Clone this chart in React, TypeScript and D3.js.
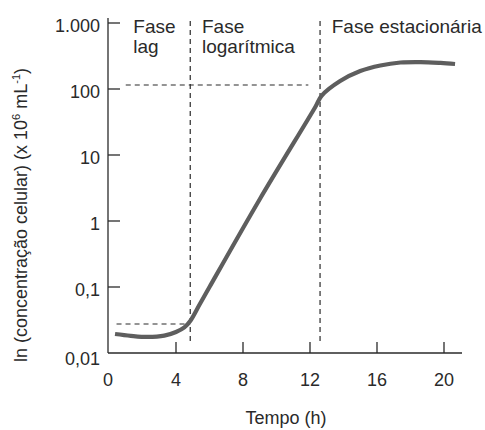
import React from "react";
import * as d3 from "d3";

const times = [0.36, 1.3, 2.3, 3.3, 4.0, 4.5, 4.85, 5.4, 6.0, 9.0, 12.3, 12.7, 13.8, 15.0, 16.2, 17.4, 18.6, 19.8, 20.66];
const concentrations = [0.0194, 0.0182, 0.0175, 0.0183, 0.0208, 0.0244, 0.0305, 0.0537, 0.1, 2.14, 52.5, 79.4, 132, 187, 227, 252, 256, 248, 239];

const xTicks = [0, 4, 8, 12, 16, 20];
const yTicks = [0.01, 0.1, 1, 10, 100, 1000];
const yTickLabels = ["0,01", "0,1", "1", "10", "100", "1.000"];

const phaseBoundaries = [4.85, 12.6];
const lagLevel = 0.0275;
const lagStart = 0.45;
const stationaryLevel = 115;
const stationaryStart = 1.0;
const stationaryEnd = 11.9;

const phaseLabels = [
  { t: 1.45, lines: ["Fase", "lag"] },
  { t: 5.55, lines: ["Fase", "logarítmica"] },
  { t: 13.3, lines: ["Fase estacionária"] },
];

const FONT = "'Liberation Sans', Arial, Helvetica, sans-serif";
const INK = "#2a2a2a";

export default function App() {
  const x = d3.scaleLinear().domain([0, 20]).range([109, 444]);
  const y = d3.scaleLog().domain([0.01, 1000]).range([353, 23]);

  const pts: [number, number][] = times.map((t, i) => [x(t), y(concentrations[i])]);
  const line = d3.line().curve(d3.curveCatmullRom.alpha(0.5))(pts) || "";

  const axisX0 = 108;
  const axisY0 = 353;
  const dash = "5,4";

  return (
    <svg
      width={485}
      height={430}
      style={{ position: "absolute", left: 0, top: 0, background: "#fff" }}
      fontFamily={FONT}
    >
      {/* axes */}
      <line x1={axisX0} y1={18} x2={axisX0} y2={axisY0} stroke={INK} strokeWidth={1.3} />
      <line x1={axisX0} y1={axisY0} x2={462} y2={axisY0} stroke={INK} strokeWidth={1.3} />

      {/* y ticks */}
      {yTicks.map((v, i) => (
        <g key={"yt" + i}>
          {i > 0 && (
            <line x1={axisX0} x2={120} y1={y(v)} y2={y(v)} stroke={INK} strokeWidth={1.3} />
          )}
          <text
            x={100}
            y={y(v) + (i === 0 ? 6 : 3)}
            textAnchor="end"
            dominantBaseline="central"
            fontSize={18}
            fill={INK}
          >
            {yTickLabels[i]}
          </text>
        </g>
      ))}

      {/* x ticks */}
      {xTicks.map((t, i) => (
        <g key={"xt" + i}>
          {i > 0 && (
            <line x1={x(t)} x2={x(t)} y1={axisY0} y2={342} stroke={INK} strokeWidth={1.3} />
          )}
          <text x={i === 0 ? axisX0 : x(t)} y={386} textAnchor="middle" fontSize={18} fill={INK}>
            {t}
          </text>
        </g>
      ))}

      {/* axis titles */}
      <text x={286} y={424} textAnchor="middle" fontSize={18} fill={INK}>
        Tempo (h)
      </text>
      <text
        transform={`translate(27, 215) rotate(-90)`}
        textAnchor="middle"
        fontSize={18}
        fill={INK}
      >
        ln (concentração celular) (x 10
        <tspan dy={-7} fontSize={11}>6</tspan>
        <tspan dy={7}> mL</tspan>
        <tspan dy={-7} fontSize={11}>-1</tspan>
        <tspan dy={7}>)</tspan>
      </text>

      {/* dashed guide lines */}
      {phaseBoundaries.map((t, i) => (
        <line
          key={"pb" + i}
          x1={x(t)}
          x2={x(t)}
          y1={21}
          y2={342}
          stroke={INK}
          strokeWidth={1.2}
          strokeDasharray={dash}
        />
      ))}
      <line
        x1={x(lagStart)}
        x2={x(phaseBoundaries[0])}
        y1={y(lagLevel)}
        y2={y(lagLevel)}
        stroke={INK}
        strokeWidth={1.2}
        strokeDasharray={dash}
      />
      <line
        x1={x(stationaryStart)}
        x2={x(stationaryEnd)}
        y1={y(stationaryLevel)}
        y2={y(stationaryLevel)}
        stroke={INK}
        strokeWidth={1.2}
        strokeDasharray={dash}
      />

      {/* growth curve */}
      <path d={line} fill="none" stroke="#5e5e5e" strokeWidth={4.2} strokeLinecap="butt" />

      {/* phase labels */}
      {phaseLabels.map((p, i) => (
        <text key={"pl" + i} x={x(p.t)} y={33} fontSize={19} fill={INK}>
          {p.lines.map((l, j) => (
            <tspan key={j} x={x(p.t)} dy={j === 0 ? 0 : 20}>
              {l}
            </tspan>
          ))}
        </text>
      ))}
    </svg>
  );
}
